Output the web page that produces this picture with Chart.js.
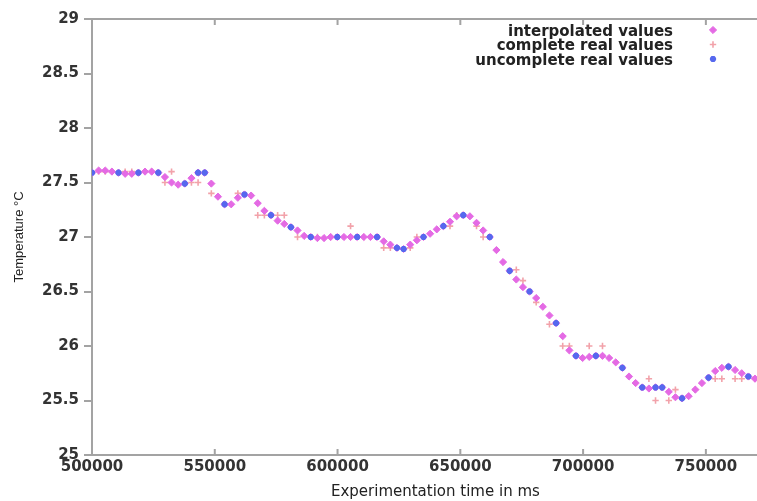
<!DOCTYPE html>
<html>
<head>
<meta charset="utf-8">
<script src="https://cdn.jsdelivr.net/npm/chart.js"></script>
<style>
  html, body { margin: 0; padding: 0; background: #fff; overflow: hidden; }
  #wrap { width: 757px; height: 501px; overflow: hidden; }
</style>
</head>
<body>
<div id="wrap"><canvas id="myChart" width="785" height="501"></canvas></div>
<script>
// time axis (ms) of the interpolated series
const times = [
  500000, 502700, 505400, 508100, 510800, 513500, 516200, 518900, 521600, 524300,
  527000, 529700, 532400, 535100, 537800, 540500, 543200, 545900, 548600, 551300,
  554000, 556700, 559400, 562100, 564800, 567500, 570200, 572900, 575600, 578300,
  581000, 583700, 586400, 589100, 591800, 594500, 597200, 599900, 602600, 605300,
  608000, 610700, 613400, 616100, 618800, 621500, 624200, 626900, 629600, 632300,
  635000, 637700, 640400, 643100, 645800, 648500, 651200, 653900, 656600, 659300,
  662000, 664700, 667400, 670100, 672800, 675500, 678200, 680900, 683600, 686300,
  689000, 691700, 694400, 697100, 699800, 702500, 705200, 707900, 710600, 713300,
  716000, 718700, 721400, 724100, 726800, 729500, 732200, 734900, 737600, 740300,
  743000, 745700, 748400, 751100, 753800, 756500, 759200, 761900, 764600, 767300,
  770000
];
const interpolated = [
  27.59, 27.61, 27.61, 27.60, 27.59, 27.58, 27.58, 27.59, 27.60, 27.60,
  27.59, 27.55, 27.50, 27.48, 27.49, 27.54, 27.59, 27.59, 27.49, 27.37,
  27.30, 27.30, 27.36, 27.39, 27.38, 27.31, 27.24, 27.20, 27.15, 27.12,
  27.09, 27.06, 27.01, 27.00, 26.99, 26.99, 27.00, 27.00, 27.00, 27.00,
  27.00, 27.00, 27.00, 27.00, 26.96, 26.93, 26.90, 26.89, 26.93, 26.97,
  27.00, 27.03, 27.07, 27.10, 27.14, 27.19, 27.20, 27.19, 27.13, 27.06,
  27.00, 26.88, 26.77, 26.69, 26.61, 26.54, 26.50, 26.44, 26.36, 26.28,
  26.21, 26.09, 25.96, 25.91, 25.89, 25.90, 25.91, 25.91, 25.89, 25.85,
  25.80, 25.72, 25.66, 25.62, 25.61, 25.62, 25.62, 25.58, 25.53, 25.52,
  25.54, 25.60, 25.66, 25.71, 25.77, 25.80, 25.81, 25.78, 25.75, 25.72,
  25.70
];

// complete real values
const completeTimes = [
  502700, 505400, 508100, 513500, 516200, 521600, 524300, 529700, 532400, 540500,
  543200, 548600, 559400, 567500, 570200, 575600, 578300, 583700, 591800, 597200,
  605300, 610700, 618800, 621500, 629600, 632300, 645800, 648500, 656600, 659300,
  672800, 675500, 680900, 686300, 691700, 694400, 702500, 707900, 726800, 729500,
  734900, 737600, 745700, 753800, 756500, 761900, 764600, 770000
];
const completeVals = [
  27.6, 27.6, 27.6, 27.6, 27.6, 27.6, 27.6, 27.5, 27.6, 27.5,
  27.5, 27.4, 27.4, 27.2, 27.2, 27.2, 27.2, 27.0, 27.0, 27.0,
  27.1, 27.0, 26.9, 26.9, 26.9, 27.0, 27.1, 27.2, 27.1, 27.0,
  26.7, 26.6, 26.4, 26.2, 26.0, 26.0, 26.0, 26.0, 25.7, 25.5,
  25.5, 25.6, 25.6, 25.7, 25.7, 25.7, 25.7, 25.7
];

// uncomplete real values
const uncompleteTimes = [
  500000, 510800, 518900, 527000, 537800, 543200, 545900, 554000, 562100, 572900,
  581000, 589100, 599900, 608000, 616100, 624200, 626900, 635000, 643100, 651200,
  662000, 670100, 678200, 689000, 697100, 705200, 716000, 724100, 729500, 732200,
  740300, 751100, 759200, 767300
];
const uncompleteVals = [
  27.59, 27.59, 27.59, 27.59, 27.49, 27.59, 27.59, 27.30, 27.39, 27.20,
  27.09, 27.00, 27.00, 27.00, 27.00, 26.90, 26.89, 27.00, 27.10, 27.20,
  27.00, 26.69, 26.50, 26.21, 25.91, 25.91, 25.80, 25.62, 25.62, 25.62,
  25.52, 25.71, 25.81, 25.72
];

const xTicks = [500000, 550000, 600000, 650000, 700000, 750000];
const yTicks = [25, 25.5, 26, 26.5, 27, 27.5, 28, 28.5, 29];

const toPts = (xs, ys) => xs.map((x, k) => ({ x: x, y: ys[k] }));

const axisGray = '#a3a3a3';
const tickFont = { family: 'DejaVu Sans', size: 15, weight: 'bold' };

// gnuplot-like frame: top border + inward ticks on top / bottom
const framePlugin = {
  id: 'frame',
  beforeDatasetsDraw(chart) {
    const { ctx, chartArea: a, scales } = chart;
    ctx.save();
    ctx.strokeStyle = axisGray;
    ctx.lineWidth = 2;
    ctx.beginPath();
    ctx.moveTo(a.left, a.top);
    ctx.lineTo(a.right, a.top);
    scales.x.ticks.forEach(t => {
      const px = scales.x.getPixelForValue(t.value);
      ctx.moveTo(px, a.top);
      ctx.lineTo(px, a.top + 6);
      ctx.moveTo(px, a.bottom);
      ctx.lineTo(px, a.bottom - 6);
    });
    ctx.stroke();
    ctx.restore();
  }
};

// legend: right-aligned text, marker on the right
const keyPlugin = {
  id: 'key',
  afterDraw(chart) {
    const { ctx } = chart;
    ctx.save();
    ctx.font = 'bold 15px "DejaVu Sans"';
    ctx.textAlign = 'right';
    ctx.textBaseline = 'middle';
    chart.data.datasets.forEach((ds, i) => {
      const y = 32 + i * 14.5;
      ctx.fillStyle = '#222';
      ctx.fillText(ds.label, 673, y);
      ctx.fillStyle = ds.backgroundColor;
      ctx.strokeStyle = ds.borderColor;
      ctx.lineWidth = ds.borderWidth;
      Chart.helpers.drawPoint(ctx, {
        pointStyle: ds.pointStyle, radius: ds.pointRadius,
        borderWidth: ds.borderWidth, rotation: 0
      }, 713, y - 2);
    });
    ctx.restore();
  }
};

new Chart(document.getElementById('myChart'), {
  type: 'scatter',
  data: {
    datasets: [
      {
        label: 'interpolated values',
        data: toPts(times, interpolated),
        pointStyle: 'rectRot',
        pointRadius: 3.6,
        backgroundColor: '#e46ae4',
        borderColor: '#e46ae4',
        borderWidth: 1,
        order: 1
      },
      {
        label: 'complete real values',
        data: toPts(completeTimes, completeVals),
        pointStyle: 'cross',
        pointRadius: 3.2,
        backgroundColor: '#f2a2aa',
        borderColor: '#f2a2aa',
        borderWidth: 1.6,
        order: 2
      },
      {
        label: 'uncomplete real values',
        data: toPts(uncompleteTimes, uncompleteVals),
        pointStyle: 'star',
        pointRadius: 3.1,
        backgroundColor: '#5668ee',
        borderColor: '#5668ee',
        borderWidth: 2.2,
        order: 0
      }
    ]
  },
  options: {
    responsive: false,
    animation: false,
    events: [],
    layout: { padding: { top: 19, right: 1, bottom: 0, left: 0 } },
    plugins: {
      legend: { display: false },
      tooltip: { enabled: false }
    },
    scales: {
      x: {
        type: 'linear',
        min: 500000,
        max: 779700,
        afterBuildTicks: s => { s.ticks = xTicks.map(v => ({ value: v })); },
        afterFit: s => { s.height = 46; },
        ticks: {
          autoSkip: false,
          maxRotation: 0,
          padding: 3,
          color: '#333',
          font: tickFont,
          callback: v => String(v)
        },
        grid: { drawOnChartArea: false, drawTicks: false },
        border: { display: true, color: axisGray, width: 2 },
        title: {
          display: true,
          text: 'Experimentation time in ms',
          color: '#222',
          font: { family: 'DejaVu Sans', size: 15 },
          padding: { top: 0, bottom: 0 }
        }
      },
      y: {
        min: 25,
        max: 29,
        afterBuildTicks: s => { s.ticks = yTicks.map(v => ({ value: v })); },
        afterFit: s => { s.width = 92; },
        ticks: {
          padding: 5,
          color: '#333',
          font: tickFont,
          callback: v => String(v)
        },
        grid: { drawOnChartArea: false, drawTicks: true, tickLength: 8, color: axisGray, lineWidth: 2 },
        border: { display: true, color: axisGray, width: 2 },
        title: {
          display: true,
          text: 'Temperature °C',
          color: '#222',
          font: { family: '"Liberation Sans Narrow", "Liberation Sans"', size: 13 },
          padding: { top: 12, bottom: 0 }
        }
      }
    }
  },
  plugins: [framePlugin, keyPlugin]
});
</script>
</body>
</html>
